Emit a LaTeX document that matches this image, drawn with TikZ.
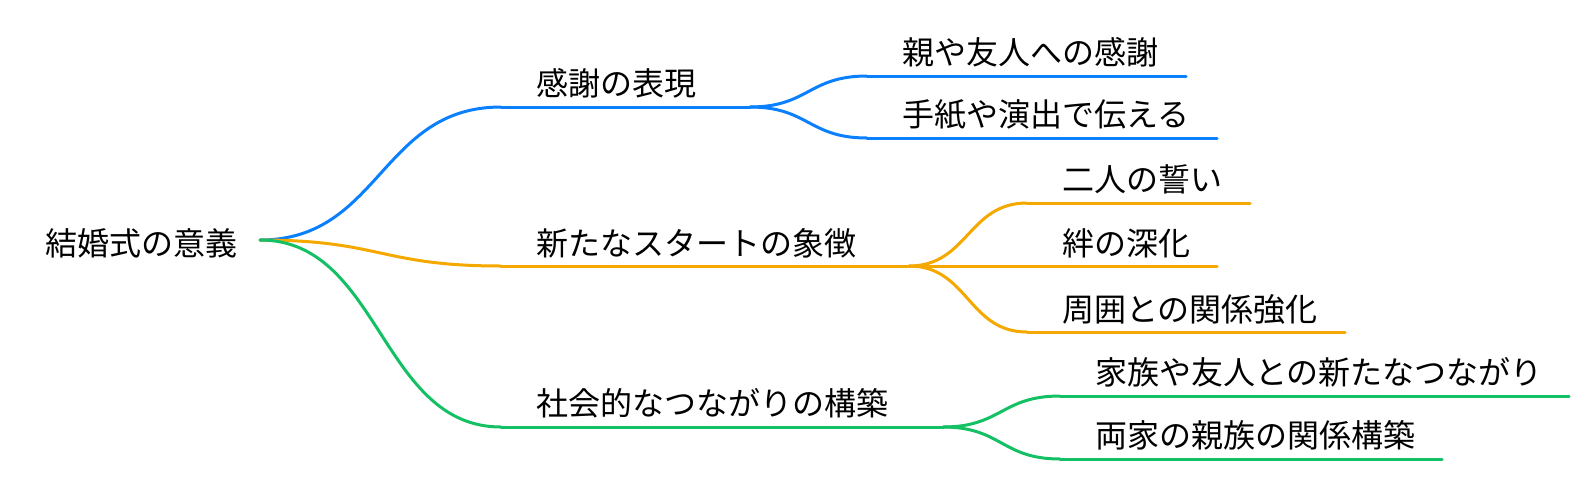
\documentclass[tikz,border=0pt]{standalone}
\usepackage{fontspec}
\setmainfont{Noto Sans CJK JP}
\usetikzlibrary{calc}
\definecolor{mmblue}{RGB}{10,128,255}
\definecolor{mmorange}{RGB}{245,168,0}
\definecolor{mmgreen}{RGB}{20,192,100}
\tikzset{
  lbl/.style={anchor=west,inner sep=0pt,font=\fontsize{32pt}{36pt}\selectfont,text=black},
  link/.style={line width=3pt,line cap=round},
}
\newcommand\mmlink[3]{\draw[link,#1] let \p1=(#2),\p2=(#3) in (\p1) .. controls ({(\x1+\x2)/2},\y1) and ({(\x1+\x2)/2},\y2) .. (\p2);}
\begin{document}
\begin{tikzpicture}[x=1pt,y=-1pt]
\useasboundingbox (0,0) rectangle (1590,480);
% root
\node[lbl] (root) at (45,243) {結婚式の意義};
\coordinate (r) at (260,240);
% level 1
\node[lbl] (tA) at (536,83) {感謝の表現};
\coordinate (As) at (501,107); \coordinate (Ae) at (750,107);
\node[lbl] (tB) at (536,243) {新たなスタートの象徴};
\coordinate (Bs) at (501,266); \coordinate (Be) at (909,266);
\node[lbl] (tC) at (536,403) {社会的なつながりの構築};
\coordinate (Cs) at (501,427); \coordinate (Ce) at (943,427);
% level 2
\node[lbl] (tA1) at (902,52) {親や友人への感謝};
\coordinate (A1s) at (867,76); \coordinate (A1e) at (1186,76);
\node[lbl] (tA2) at (902,115) {手紙や演出で伝える};
\coordinate (A2s) at (867,138); \coordinate (A2e) at (1217,138);
\node[lbl] (tB1) at (1062,179) {二人の誓い};
\coordinate (B1s) at (1027,203); \coordinate (B1e) at (1250,203);
\node[lbl] (tB2) at (1062,243) {絆の深化};
\coordinate (B2s) at (1027,266); \coordinate (B2e) at (1217,266);
\node[lbl] (tB3) at (1062,309) {周囲との関係強化};
\coordinate (B3s) at (1027,332); \coordinate (B3e) at (1345,332);
\node[lbl] (tC1) at (1095,372) {家族や友人との新たなつながり};
\coordinate (C1s) at (1060,396); \coordinate (C1e) at (1569,396);
\node[lbl] (tC2) at (1095,435) {両家の親族の関係構築};
\coordinate (C2s) at (1060,459); \coordinate (C2e) at (1442,459);
% underlines
\draw[link,mmblue] (As) -- (Ae);
\draw[link,mmorange] (Bs) -- (Be);
\draw[link,mmgreen] (Cs) -- (Ce);
\draw[link,mmblue] (A1s) -- (A1e);
\draw[link,mmblue] (A2s) -- (A2e);
\draw[link,mmorange] (B1s) -- (B1e);
\draw[link,mmorange] (B2s) -- (B2e);
\draw[link,mmorange] (B3s) -- (B3e);
\draw[link,mmgreen] (C1s) -- (C1e);
\draw[link,mmgreen] (C2s) -- (C2e);
% links
\mmlink{mmblue}{r}{As}
\mmlink{mmorange}{r}{Bs}
\mmlink{mmgreen}{r}{Cs}
\mmlink{mmblue}{Ae}{A1s}
\mmlink{mmblue}{Ae}{A2s}
\mmlink{mmorange}{Be}{B1s}
\mmlink{mmorange}{Be}{B2s}
\mmlink{mmorange}{Be}{B3s}
\mmlink{mmgreen}{Ce}{C1s}
\mmlink{mmgreen}{Ce}{C2s}
\end{tikzpicture}
\end{document}
